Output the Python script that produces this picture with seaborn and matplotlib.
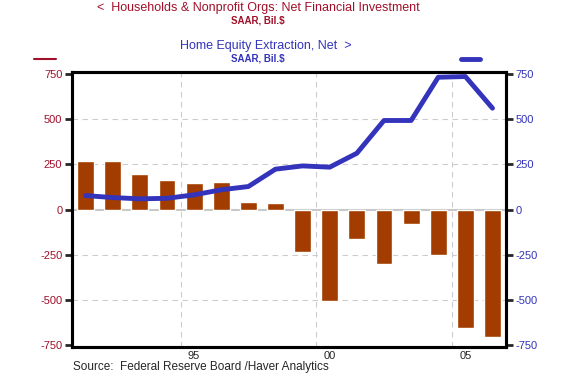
import matplotlib
matplotlib.use("Agg")
import matplotlib.pyplot as plt
import seaborn as sns
import pandas as pd

years = list(range(1991, 2007))
net_fin_invest = [268, 268, 197, 164, 147, 153, 43, 37, -234, -505, -164, -300, -81, -249, -656, -704]
home_equity = [77, 66, 59, 62, 81, 109, 127, 223, 241, 234, 311, 492, 492, 731, 735, 560]
y_ticks = [-750, -500, -250, 0, 250, 500, 750]
x_labels = {1995: "95", 2000: "00", 2005: "05"}

red = "#A0102A"
blue = "#3333BB"
bar_color = "#A33C00"

df = pd.DataFrame({"year": years, "nfi": net_fin_invest, "hee": home_equity})

sns.set_style("white")
plt.rcParams["font.family"] = ["Liberation Sans", "DejaVu Sans"]

fig = plt.figure(figsize=(5.87, 3.78), dpi=100)
ax = fig.add_axes([0.1227, 0.082, 0.7394, 0.7275])

# bars: households net financial investment (left axis)
sns.barplot(data=df, x="year", y="nfi", native_scale=True, color=bar_color,
            saturation=1, width=0.62, ax=ax, zorder=3)
ax.axhline(0, color="#C8C8C8", lw=1.5, zorder=2)

# line: home equity extraction (right axis)
ax2 = ax.twinx()
sns.lineplot(data=df, x="year", y="hee", color=blue, lw=3.5, ax=ax2, zorder=4)

for a in (ax, ax2):
    a.set_ylim(-760, 760)
    a.set_yticks(y_ticks)
    a.set_xlim(years[0] - 0.5, years[-1] + 0.5)
    a.set_xlabel("")
    a.set_ylabel("")
    for s in a.spines.values():
        s.set_linewidth(2.2)
        s.set_color("black")

ax.set_yticklabels([str(v) for v in y_ticks], color=red, fontsize=8)
ax2.set_yticklabels([str(v) for v in y_ticks], color=blue, fontsize=8)
ax.tick_params(axis="y", direction="out", length=5, width=2, left=True, pad=2)
ax2.tick_params(axis="y", direction="out", length=5, width=2, right=True, pad=2)

# year-boundary ticks, labels centred in the year
ax.set_xticks([y - 0.5 for y in years] + [years[-1] + 0.5])
ax.set_xticklabels([])
ax.set_xticks(list(x_labels.keys()), minor=True)
ax.set_xticklabels(list(x_labels.values()), minor=True, fontsize=8)
ax.tick_params(axis="x", which="major", direction="out", length=5, width=2, bottom=True)
ax.tick_params(axis="x", which="minor", length=0, pad=3)
ax2.set_xticks([])

# grid
for v in [-500, -250, 250, 500]:
    ax.axhline(v, color="#CCCCCC", lw=0.8, ls=(0, (5, 4)), zorder=1)
for y in x_labels:
    ax.axvline(y - 0.5, color="#CCCCCC", lw=0.8, ls=(0, (5, 4)), zorder=1)

# headers
fig.text(0.44, 0.979, "<  Households & Nonprofit Orgs: Net Financial Investment",
         ha="center", va="center", color=red, fontsize=9)
fig.text(0.44, 0.946, "SAAR, Bil.$", ha="center", va="center", color=red,
         fontsize=7, fontweight="bold")
fig.text(0.452, 0.878, "Home Equity Extraction, Net  >", ha="center", va="center",
         color=blue, fontsize=9)
fig.text(0.44, 0.845, "SAAR, Bil.$", ha="center", va="center", color=blue,
         fontsize=7, fontweight="bold")
fig.add_artist(plt.Line2D([0.058, 0.095], [0.845, 0.845], color=red, lw=1.5))
fig.add_artist(plt.Line2D([0.785, 0.818], [0.845, 0.845], color=blue, lw=3.5,
                          solid_capstyle="round"))

fig.text(0.125, 0.012, "Source:  Federal Reserve Board /Haver Analytics",
         ha="left", va="bottom", fontsize=8.5)

fig.savefig("out.png", dpi=100)
